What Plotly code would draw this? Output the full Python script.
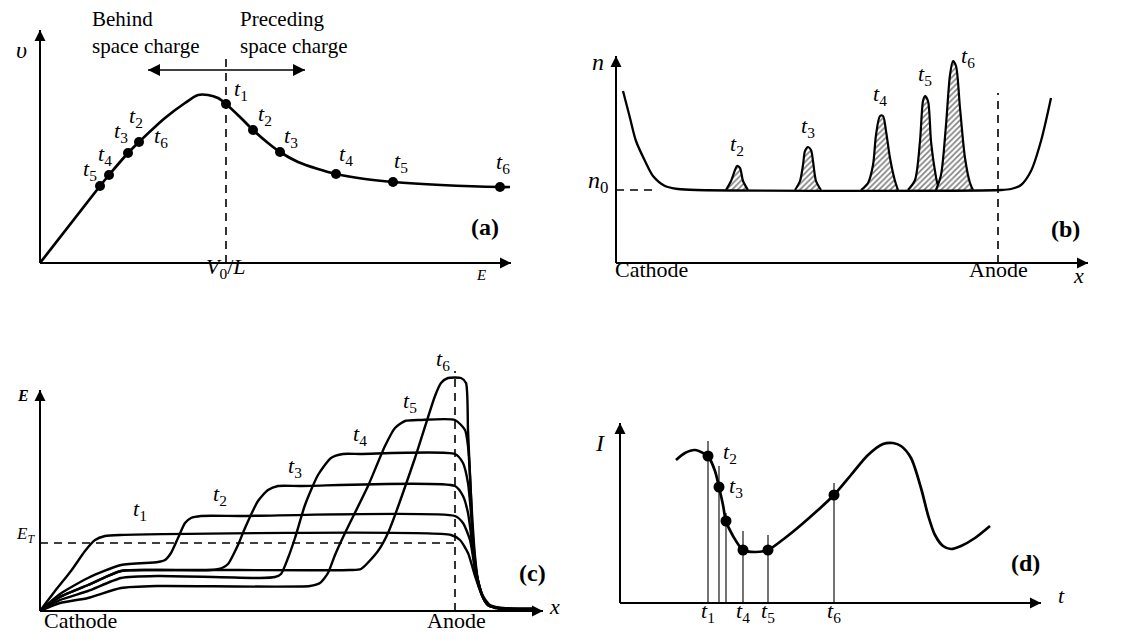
import plotly.graph_objects as go

W, H = 1128, 632
FONT = "Liberation Serif"
BLACK = "black"

# ---------------- Panel (a): drift velocity v(E) ----------------
a_E = [0, 60, 69, 88, 99, 125, 145, 158, 168, 178, 186, 201, 213, 228, 240, 258, 278, 296, 325, 353, 401, 460, 470]
a_v = [0, 77, 88, 110, 121, 145, 160, 168, 168, 165, 159, 145, 133, 120, 111, 101, 94, 89, 84, 81, 78, 76, 76]
a_dotL_E = [60, 69, 88, 99]
a_dotL_v = [77, 88, 110, 121]
a_dotR_E = [186, 213, 240, 296, 353, 460]
a_dotR_v = [159, 133, 111, 89, 81, 76]
a_V0L = 186

# ---------------- Panel (b): carrier density n(x) ----------------
b_x = [7, 14, 20, 29, 37, 49, 62, 80, 385, 395, 405, 415, 425, 435]
b_n = [172, 145, 122, 102, 87, 77, 74, 73, 73, 74, 78, 92, 122, 165]
b_n0 = 73
b_anode = 382
peak_t2_x = [110, 115, 119, 121, 124, 127, 132]
peak_t2_n = [73, 82, 93, 97, 95, 82, 73]
peak_t3_x = [179, 184, 187, 189, 192, 195, 197, 200, 205]
peak_t3_n = [73, 82, 98, 112, 116, 113, 102, 82, 73]
peak_t4_x = [245, 252, 257, 260, 264, 267, 270, 274, 279, 282]
peak_t4_n = [73, 80, 98, 128, 147, 147, 132, 105, 82, 73]
peak_t5_x = [292, 299, 304, 307, 309, 312, 315, 319, 322, 327]
peak_t5_n = [73, 83, 122, 162, 167, 162, 122, 92, 78, 73]
peak_t6_x = [320, 325, 330, 334, 337, 340, 344, 349, 354, 357]
peak_t6_n = [73, 88, 138, 188, 202, 197, 155, 105, 80, 73]

# ---------------- Panel (c): field profiles E(x) ----------------
c_ET = 68
c_anode = 415
c_t1_x = [0, 15, 31, 45, 55, 65, 80, 411, 420, 428, 435, 441, 446, 455, 470, 495]
c_t1_E = [0, 20, 40, 60, 71, 75, 76, 76, 71, 58, 35, 18, 8, 3, 2, 2]
c_t2_x = [0, 20, 48, 81, 118, 125, 131, 138, 145, 151, 161, 200, 415, 423, 430, 434, 438, 443, 448, 458, 495]
c_t2_E = [0, 17, 33, 46, 49, 51, 58, 73, 88, 93, 95, 95, 95, 88, 71, 48, 30, 14, 6, 3, 2]
c_t3_x = [0, 20, 48, 81, 118, 171, 182, 188, 198, 205, 218, 228, 238, 260, 415, 423, 428, 433, 437, 442, 448, 458, 495]
c_t3_E = [0, 14, 26, 40, 41, 41, 43, 47, 66, 83, 110, 121, 125, 125, 125, 115, 98, 61, 35, 16, 6, 3, 2]
c_t4_x = [0, 20, 48, 81, 118, 220, 235, 241, 248, 255, 265, 278, 291, 303, 320, 415, 423, 428, 431, 434, 437, 442, 448, 458, 495]
c_t4_E = [0, 11, 20, 33, 35, 33, 34, 37, 53, 73, 106, 136, 153, 157, 157, 157, 148, 128, 98, 61, 35, 16, 6, 3, 2]
c_t5_x = [0, 20, 48, 81, 118, 270, 280, 288, 295, 305, 328, 345, 355, 365, 380, 415, 425, 428, 431, 433, 436, 442, 448, 458, 495]
c_t5_E = [0, 8, 13, 23, 25, 25, 28, 38, 56, 78, 125, 165, 183, 190, 191, 191, 181, 165, 115, 61, 35, 16, 6, 3, 2]
c_t6_x = [0, 20, 48, 81, 118, 310, 321, 338, 348, 375, 395, 401, 408, 421, 426, 428, 431, 435, 438, 443, 450, 463, 495]
c_t6_E = [0, 14, 26, 40, 41, 41, 42, 60, 78, 153, 215, 228, 233, 233, 228, 181, 115, 55, 31, 15, 6, 3, 2]

# ---------------- Panel (d): current I(t) ----------------
d_t = [56, 65, 75, 85, 88, 95, 99, 103, 106, 113, 123, 135, 148, 165, 181, 198, 214, 231, 248, 263, 273, 281, 291, 301, 308, 315, 323, 331, 341, 355, 370]
d_I = [143, 150, 153, 149, 147, 132, 116, 98, 82, 67, 53, 51, 53, 65, 78, 93, 108, 128, 148, 159, 160, 157, 145, 115, 88, 68, 57, 54, 57, 65, 77]
d_dot_t = [88, 99, 106, 123, 148, 214]
d_dot_I = [147, 116, 82, 53, 53, 108]
d_stem_top = [162, 137, 90, 72, 68, 120]

fig = go.Figure()

# axis layout per panel: domain in px and the origin of its drawn axes in px
panels = {
    "a": dict(xd=(0, 550), yd=(0, 300), org=(32, 255)),
    "b": dict(xd=(555, 1128), yd=(0, 300), org=(608, 255)),
    "c": dict(xd=(0, 555), yd=(330, 632), org=(32, 603)),
    "d": dict(xd=(560, 1128), yd=(330, 632), org=(612, 595)),
}
refs = {"a": ("x", "y"), "b": ("x2", "y2"), "c": ("x3", "y3"), "d": ("x4", "y4")}

layout_axes = {}
for i, key in enumerate(["a", "b", "c", "d"]):
    p = panels[key]
    ox, oy = p["org"]
    xd = [p["xd"][0] / W, p["xd"][1] / W]
    yd = [1 - p["yd"][1] / H, 1 - p["yd"][0] / H]
    xr = [p["xd"][0] - ox, p["xd"][1] - ox]
    yr = [oy - p["yd"][1], oy - p["yd"][0]]
    sfx = "" if i == 0 else str(i + 1)
    layout_axes["xaxis" + sfx] = dict(domain=xd, range=xr, visible=False, fixedrange=True,
                                      anchor="y" + sfx)
    layout_axes["yaxis" + sfx] = dict(domain=yd, range=yr, visible=False, fixedrange=True,
                                      anchor="x" + sfx)

annotations = []


def line(key, xs, ys, width=2.6, dash=None, shape="spline", smoothing=0.8):
    xr, yr = refs[key]
    ln = dict(color=BLACK, width=width, dash=dash, shape=shape)
    if shape == "spline":
        ln["smoothing"] = smoothing
    fig.add_trace(go.Scatter(x=xs, y=ys, mode="lines", xaxis=xr, yaxis=yr, line=ln,
                             hoverinfo="skip", showlegend=False, cliponaxis=False))


def dots(key, xs, ys, size=10):
    xr, yr = refs[key]
    fig.add_trace(go.Scatter(x=xs, y=ys, mode="markers", xaxis=xr, yaxis=yr,
                             marker=dict(color=BLACK, size=size),
                             hoverinfo="skip", showlegend=False, cliponaxis=False))


def arrow(key, x0, y0, x1, y1, symbol, width=2, size=11):
    xr, yr = refs[key]
    line(key, [x0, x1], [y0, y1], width=width, shape="linear")
    fig.add_trace(go.Scatter(x=[x1], y=[y1], mode="markers", xaxis=xr, yaxis=yr,
                             marker=dict(color=BLACK, size=size, symbol=symbol,
                                         line=dict(width=0)),
                             hoverinfo="skip", showlegend=False, cliponaxis=False))


def txt(key, x, y, text, size=20, xanchor="center", align="center", yshift=8):
    xr, yr = refs[key]
    annotations.append(dict(x=x, y=y, xref=xr, yref=yr, text=text, showarrow=False,
                            xanchor=xanchor, yanchor="middle", yshift=yshift, align=align,
                            font=dict(family=FONT, size=size, color=BLACK)))


def tl(n):
    return f"<i>t</i><sub>{n}</sub>"


DASH = "8px,6px"
TS = 22

# ======== Panel (a) ========
arrow("a", 0, 0, 471, 0, "arrow-right")
arrow("a", 0, 0, 0, 233, "arrow-up")
line("a", [a_V0L, a_V0L], [0, 205], width=1.6, dash=DASH, shape="linear")
arrow("a", a_V0L, 193, 108, 193, "arrow-left", width=1.6, size=12)
arrow("a", a_V0L, 193, 265, 193, "arrow-right", width=1.6, size=12)
line("a", a_E, a_v, width=2.7)
dots("a", a_dotL_E, a_dotL_v, 10)
dots("a", a_dotR_E, a_dotR_v, 10)
for (x, y, n) in [(50, 85, 5), (65, 100, 4), (81, 123, 3), (96, 138, 2), (121, 118, 6),
                  (201, 165, 1), (225, 140, 2), (251, 118, 3), (306, 100, 4), (361, 93, 5), (463, 92, 6)]:
    txt("a", x, y, tl(n), TS)
txt("a", 50, 231, "Behind<br>space charge", 21, xanchor="left", align="left", yshift=0)
txt("a", 198, 231, "Preceding<br>space charge", 21, xanchor="left", align="left", yshift=0)
txt("a", a_V0L, -13, "<i>V</i><sub>0</sub>/<i>L</i>", 22)
txt("a", -19, 205, "<i>υ</i>", 24)
txt("a", 441, -20, "<i>E</i>", 15)
txt("a", 445, 28, "<b>(a)</b>", 24)

# ======== Panel (b) ========
arrow("b", 0, 0, 472, 0, "arrow-right")
arrow("b", 0, 0, 0, 207, "arrow-up")
line("b", [0, 40], [b_n0, b_n0], width=1.6, dash=DASH, shape="linear")
line("b", [b_anode, b_anode], [0, 170], width=1.6, dash=DASH, shape="linear")
for px_, pn_ in [(peak_t2_x, peak_t2_n), (peak_t3_x, peak_t3_n), (peak_t4_x, peak_t4_n),
                 (peak_t5_x, peak_t5_n), (peak_t6_x, peak_t6_n)]:
    fig.add_trace(go.Scatter(x=px_, y=pn_, mode="lines", xaxis="x2", yaxis="y2", fill="toself",
                             fillcolor="white",
                             fillpattern=dict(shape="/", size=4, solidity=0.4, fgcolor=BLACK,
                                              bgcolor="white"),
                             line=dict(color=BLACK, width=2.2, shape="spline", smoothing=0.8),
                             hoverinfo="skip", showlegend=False))
line("b", b_x, b_n, width=2.3)
for (x, y, n) in [(121, 110, 2), (192, 128, 3), (264, 160, 4), (309, 180, 5), (352, 198, 6)]:
    txt("b", x, y, tl(n), TS)
txt("b", -18, 193, "<i>n</i>", 24)
txt("b", -18, 73, "<i>n</i><sub>0</sub>", 24)
txt("b", 35, -14, "Cathode", 22)
txt("b", b_anode, -14, "Anode", 22)
txt("b", 462, -20, "<i>x</i>", 22)
txt("b", 449, 26, "<b>(b)</b>", 24)

# ======== Panel (c) ========
arrow("c", 0, 0, 503, 0, "arrow-right")
arrow("c", 0, 0, 0, 221, "arrow-up")
line("c", [0, c_anode], [c_ET, c_ET], width=1.6, dash=DASH, shape="linear")
line("c", [c_anode, c_anode], [0, 240], width=1.6, dash=DASH, shape="linear")
for xs, ys in [(c_t1_x, c_t1_E), (c_t2_x, c_t2_E), (c_t3_x, c_t3_E),
               (c_t4_x, c_t4_E), (c_t5_x, c_t5_E), (c_t6_x, c_t6_E)]:
    line("c", xs, ys, width=2.4, smoothing=0.6)
for (x, y, n) in [(100, 93, 1), (180, 108, 2), (255, 136, 3), (320, 168, 4), (370, 201, 5), (403, 243, 6)]:
    txt("c", x, y, tl(n), TS)
txt("c", -17, 208, "<b><i>E</i></b>", 16)
txt("c", -15, 68, "<i>E</i><sub><i>T</i></sub>", 17)
txt("c", 40, -17, "Cathode", 22)
txt("c", c_anode + 1, -17, "Anode", 22)
txt("c", 514, -3, "<i>x</i>", 22)
txt("c", 492, 30, "<b>(c)</b>", 24)

# ======== Panel (d) ========
arrow("d", 0, 0, 421, 0, "arrow-right")
arrow("d", 0, 0, 0, 180, "arrow-up")
for t_, top_ in zip(d_dot_t, d_stem_top):
    line("d", [t_, t_], [0, top_], width=1.1, shape="linear")
line("d", d_t, d_I, width=2.7)
dots("d", d_dot_t, d_dot_I, 11)
for (x, n) in [(88, 1), (123, 4), (148, 5), (214, 6)]:
    txt("d", x, -17, tl(n), TS)
txt("d", 110, 142, tl(2), TS)
txt("d", 116, 108, tl(3), TS)
txt("d", -20, 152, "<i>I</i>", 24)
txt("d", 441, 0, "<i>t</i>", 22)
txt("d", 405, 32, "<b>(d)</b>", 24)

fig.update_layout(width=W, height=H, margin=dict(l=0, r=0, t=0, b=0),
                  paper_bgcolor="white", plot_bgcolor="rgba(0,0,0,0)",
                  showlegend=False, annotations=annotations, **layout_axes)

fig.write_html("out.html")
